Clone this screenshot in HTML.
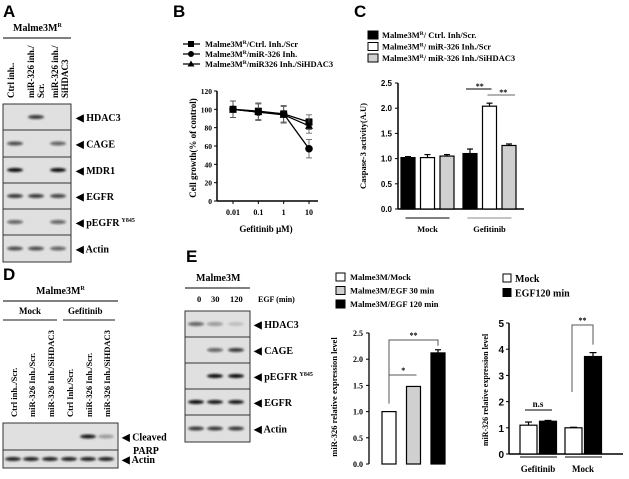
<!DOCTYPE html>
<html><head><meta charset="utf-8"><style>
html,body{margin:0;padding:0;background:#fff;}
svg{display:block;font-family:"Liberation Serif",serif;font-weight:bold;}
.pl{font-family:"Liberation Sans",sans-serif;font-weight:bold;font-size:17px;}
</style></head><body>
<svg id="fig" width="629" height="479" viewBox="0 0 629 479" xmlns="http://www.w3.org/2000/svg">
<defs>
<filter id="blur" x="-20%" y="-50%" width="140%" height="200%"><feGaussianBlur stdDeviation="1.1"/></filter>
</defs>
<text class="pl" x="3" y="17">A</text>
<text class="pl" x="173" y="17">B</text>
<text class="pl" x="354" y="17">C</text>
<text class="pl" x="3" y="280">D</text>
<text class="pl" x="186" y="262">E</text>

<g font-size="10">
<text x="13" y="31" font-size="10">Malme3M<tspan font-size="6" dy="-4">R</tspan></text>
<line x1="3" y1="38" x2="71" y2="38" stroke="#000"/>
<text transform="translate(14,98) rotate(-90)" font-size="9">Ctrl inh..</text>
<text transform="translate(34,98) rotate(-90)" font-size="9">miR-326 inh./</text>
<text transform="translate(44,98) rotate(-90)" font-size="9">Scr.</text>
<text transform="translate(58,98) rotate(-90)" font-size="9">miR-326 inh./</text>
<text transform="translate(68,98) rotate(-90)" font-size="9">SiHDAC3</text>
<g id="blotA"></g>
</g>

<g>
<text x="36" y="294" font-size="10">Malme3M<tspan font-size="6" dy="-4">R</tspan></text>
<line x1="3" y1="301" x2="118" y2="301" stroke="#000"/>
<text x="19" y="314" font-size="9">Mock</text>
<text x="68" y="314" font-size="9">Gefitinib</text>
<line x1="3" y1="320" x2="57" y2="320" stroke="#666" stroke-width="1.5"/>
<line x1="63" y1="320" x2="115" y2="320" stroke="#666" stroke-width="1.5"/>
<text transform="translate(17,417) rotate(-90)" font-size="8.5">Ctrl inh../Scr.</text>
<text transform="translate(35,417) rotate(-90)" font-size="8.5">miR-326 Inh./Scr.</text>
<text transform="translate(54,417) rotate(-90)" font-size="8.5">miR-326 Inh./SiHDAC3</text>
<text transform="translate(73,417) rotate(-90)" font-size="8.5">Ctrl Inh./Scr.</text>
<text transform="translate(92,417) rotate(-90)" font-size="8.5">miR-326 Inh./Scr.</text>
<text transform="translate(110,417) rotate(-90)" font-size="8.5">miR-326 Inh./SiHDAC3</text>
<g id="blotD"></g>
</g>

<g>
<text x="196" y="281" font-size="10">Malme3M</text>
<line x1="185" y1="288" x2="250" y2="288" stroke="#000"/>
<text x="197" y="302" font-size="8.5">0</text>
<text x="211" y="302" font-size="8.5">30</text>
<text x="230" y="302" font-size="8.5">120</text>
<text x="258" y="302" font-size="8">EGF (min)</text>
<g id="blotE"></g>
</g>

<g id="chartB"></g>
<g id="chartC"></g>
<g id="chartF"></g>
<g id="chartG"></g>
</svg>
<script>
const bDoses = ["0.01","0.1","1","10"];
const bScr = [100, 98, 95, 86];
const bInh = [100, 97, 95, 57];
const bSi = [100, 97, 94, 82];
const bErr = [9, 9, 9, 8];
const bErrInh = [9, 9, 9, 10];
const bTicks = [0,20,40,60,80,100,120];
const cGroups = ["Mock","Gefitinib"];
const cCtrl = [1.02, 1.10];
const cInh = [1.02, 2.04];
const cSi = [1.05, 1.26];
const cErrCtrl = [0.02, 0.09];
const cErrInh = [0.06, 0.06];
const cErrSi = [0.03, 0.03];
const cTicks = ["0.0","0.5","1.0","1.5","2.0","2.5"];
const fCats = ["Mock","EGF 30 min","EGF 120 min"];
const fVals = [1.0, 1.48, 2.12];
const fErr = [0.0, 0.0, 0.06];
const fTicks = ["0.0","0.5","1.0","1.5","2.0","2.5"];
const gGroups = ["Gefitinib","Mock"];
const gMock = [1.1, 1.0];
const gEgf = [1.25, 3.72];
const gErrMock = [0.12, 0.02];
const gErrEgf = [0.03, 0.15];
const gTicks = [0,1,2,3,4,5];

const NS="http://www.w3.org/2000/svg";
function mk(parent, tag, attrs, text){
  const e=document.createElementNS(NS,tag);
  for(const k in attrs) e.setAttribute(k, attrs[k]);
  if(text!==undefined) e.textContent=text;
  parent.appendChild(e); return e;
}
function errBar(g,x,y1,y2,w){
  mk(g,'line',{x1:x,x2:x,y1:y1,y2:y2,stroke:'#000','stroke-width':1.2});
  mk(g,'line',{x1:x-w,x2:x+w,y1:y2,y2:y2,stroke:'#000','stroke-width':1.2});
}

function blot(gid, x0, x1, rows, lanes, labels, lblX){
  const g=document.getElementById(gid);
  rows.forEach((r,i)=>{
    const row=mk(g,'rect',{x:x0,y:r[0],width:x1-x0,height:r[1]-r[0],fill:'#e0e0e0',stroke:'#333','stroke-width':1});
    
    
    const cy=(r[0]+r[1])/2;
    r[2].forEach((v,j)=>{
      if(v>0){
        const b=mk(g,'ellipse',{cx:lanes[j],cy:cy,rx:8,ry:2,fill:'#111','fill-opacity':v,filter:'url(#blur)'});
        
        
      }
    });
    const t=mk(g,'text',{x:lblX,y:cy+4,'font-size':10},'◀ '+labels[i].replace(' Y845',''));
    if(labels[i].indexOf('Y845')>=0){ mk(t,'tspan',{'font-size':6,dy:-4,dx:2},'Y845'); }
    
    
  });
}
blot('blotA',3,71,[[104,130,[0,0.8,0]],[130,157,[0.7,0,0.6]],[157,183,[1,0,1]],[183,209,[0.8,0.8,0.75]],[209,235,[0.6,0,0.6]],[235,262,[0.7,0.7,0.6]]],[15,36,58],["HDAC3","CAGE","MDR1","EGFR","pEGFR Y845","Actin"],76);
blot('blotD',3,118,[[423,450,[0,0,0,0,0.95,0.3]],[450,468,[0.9,0.9,0.9,0.9,0.9,0.9]]],[13,31,50,69,88,106],["Cleaved","Actin"],122);
(function(){const g=document.getElementById('blotD');const t=mk(g,'text',{x:133,y:454,'font-size':10},'PARP');})();
blot('blotE',185,250,[[311,337,[0.6,0.35,0.15]],[337,363,[0,0.6,0.8]],[363,389,[0,1,1]],[389,415,[1,0.95,0.95]],[415,442,[0.8,0.8,0.8]]],[196,215,236],["HDAC3","CAGE","pEGFR Y845","EGFR","Actin"],254);

(function(){
  const g=document.getElementById('chartB');
  const ax=217, y0=201, y1=91;
  const ys=v=>y0-(v/120)*(y0-y1);
  const xp=[233,259,283,309];
  const xs=i=>xp[0]+i*((xp[3]-xp[0])/(bDoses.length-1));
  mk(g,'line',{x1:ax,x2:ax,y1:y1,y2:y0,stroke:'#000','stroke-width':1.5});
  mk(g,'line',{x1:ax,x2:318,y1:y0,y2:y0,stroke:'#000','stroke-width':1.5});
  bTicks.forEach(t=>{mk(g,'line',{x1:ax-3,x2:ax,y1:ys(t),y2:ys(t),stroke:'#000'});mk(g,'text',{x:ax-5,y:ys(t)+3,'font-size':7.5,'text-anchor':'end'},t);});
  bDoses.forEach((d,i)=>{mk(g,'line',{x1:xs(i),x2:xs(i),y1:y0,y2:y0+3,stroke:'#000'});mk(g,'text',{x:xs(i),y:y0+14,'font-size':8,'text-anchor':'middle'},d);});
  mk(g,'text',{x:266,y:232,'font-size':9,'text-anchor':'middle'},'Gefitinib μM)');
  mk(g,'text',{transform:'translate(196,148) rotate(-90)','font-size':9,'text-anchor':'middle'},'Cell growth(% of control)');
  const series=[[bScr,bErr,'sq'],[bInh,bErrInh,'ci'],[bSi,bErr,'tr']];
  series.forEach(s=>{
    const pts=s[0].map((v,i)=>xs(i)+','+ys(v)).join(' ');
    const pl=mk(g,'polyline',{points:pts,fill:'none',stroke:'#000','stroke-width':1.3});
    
    
    s[0].forEach((v,i)=>{
      const x=xs(i),y=ys(v),e=s[1][i]*(y0-y1)/120;
      mk(g,'line',{x1:x,x2:x,y1:y-e,y2:y+e,stroke:'#555','stroke-width':0.8});
      mk(g,'line',{x1:x-3,x2:x+3,y1:y-e,y2:y-e,stroke:'#555','stroke-width':0.8});
      mk(g,'line',{x1:x-3,x2:x+3,y1:y+e,y2:y+e,stroke:'#555','stroke-width':0.8});
      let m;
      if(s[2]==='sq') m=mk(g,'rect',{x:x-3.5,y:y-3.5,width:7,height:7,fill:'#000'});
      else if(s[2]==='ci') m=mk(g,'circle',{cx:x,cy:y,r:3.8,fill:'#000'});
      else m=mk(g,'polygon',{points:`${x},${y-4} ${x-4},${y+3} ${x+4},${y+3}`,fill:'#000'});
      
      
    });
  });
  const leg=[['sq','Malme3M','/Ctrl. Inh./Scr'],['ci','Malme3M','/miR-326 Inh.'],['tr','Malme3M','/miR326 Inh./SiHDAC3']];
  leg.forEach((l,i)=>{
    const y=44+i*10;
    const lg=mk(g,'g',{});
    
    
    mk(lg,'line',{x1:183,x2:200,y1:y,y2:y,stroke:'#000','stroke-width':1.3});
    if(l[0]==='sq') mk(lg,'rect',{x:188,y:y-3,width:6,height:6});
    else if(l[0]==='ci') mk(lg,'circle',{cx:191,cy:y,r:3});
    else mk(lg,'polygon',{points:`191,${y-3.5} 187.5,${y+2.5} 194.5,${y+2.5}`});
    const t=mk(lg,'text',{x:205,y:y+3,'font-size':8.5},l[1]);
    mk(t,'tspan',{'font-size':5.5,dy:-3},'R');
    mk(t,'tspan',{dy:3},l[2]);
  });
})();

(function(){
  const g=document.getElementById('chartC');
  const ax=398,y0=209,yt=83;
  const ys=v=>y0-(v/2.5)*(y0-yt);
  const gx=[401,463], step=19.5, bw=14;
  mk(g,'line',{x1:ax,x2:ax,y1:yt,y2:y0,stroke:'#000','stroke-width':1.5});
  mk(g,'line',{x1:ax,x2:524,y1:y0,y2:y0,stroke:'#000','stroke-width':1.5});
  cTicks.forEach(t=>{const y=ys(+t);mk(g,'line',{x1:ax-3,x2:ax,y1:y,y2:y,stroke:'#000'});mk(g,'text',{x:ax-6,y:y+3,'font-size':8,'font-family':'Liberation Sans','text-anchor':'end'},t);});
  const series=[[cCtrl,cErrCtrl,'#000'],[cInh,cErrInh,'#fff'],[cSi,cErrSi,'#d0d0d0']];
  cGroups.forEach((grp,gi)=>{
    series.forEach((s,si)=>{
      const x=gx[gi]+si*step, y=ys(s[0][gi]);
      const r=mk(g,'rect',{x:x,y:y,width:bw,height:y0-y,fill:s[2],stroke:'#000','stroke-width':1.2});
      
      
      errBar(g,x+bw/2,y,ys(s[0][gi]+s[1][gi]),3);
    });
    const cx=gx[gi]+step+bw/2;
    mk(g,'line',{x1:cx-22,x2:cx+22,y1:218,y2:218,stroke:gi?'#888':'#000'});
    mk(g,'text',{x:cx,y:232,'font-size':8.5,'text-anchor':'middle'},grp);
  });
  const xi=i=>gx[1]+i*step+bw/2;
  mk(g,'line',{x1:xi(0)-4,x2:xi(1)+2,y1:89,y2:89,stroke:'#000'});
  mk(g,'text',{x:(xi(0)+xi(1))/2,y:89,'font-size':8,'text-anchor':'middle'},'**');
  mk(g,'line',{x1:xi(1)-2,x2:xi(2)+6,y1:95,y2:95,stroke:'#666'});
  mk(g,'text',{x:(xi(1)+xi(2))/2+4,y:95,'font-size':8,'text-anchor':'middle'},'**');
  mk(g,'text',{transform:'translate(366,146) rotate(-90)','font-size':8.5,'text-anchor':'middle'},'Caspase-3 activity(A.U)');
  const leg=[['#000',' Ctrl. Inh/Scr.'],['#fff',' miR-326 Inh./Scr'],['#d0d0d0',' miR-326 Inh./SiHDAC3']];
  leg.forEach((l,i)=>{
    const y=35+i*11.5;
    const lg=mk(g,'g',{});
    
    
    mk(lg,'rect',{x:368,y:y-4,width:10,height:8,fill:l[0],stroke:'#000'});
    const t=mk(lg,'text',{x:382,y:y+3,'font-size':8.5},'Malme3M');
    mk(t,'tspan',{'font-size':5.5,dy:-3},'R');
    mk(t,'tspan',{dy:3},'/'+l[1]);
  });
})();

(function(){
  const g=document.getElementById('chartF');
  const ax=369,y0=464,yt=333;
  const ys=v=>y0-(v/2.5)*(y0-yt);
  const bx=i=>382+i*24.5, bw=14;
  const fills=['#fff','#d0d0d0','#000'];
  mk(g,'line',{x1:ax,x2:ax,y1:yt,y2:y0,stroke:'#000','stroke-width':1.3});
  fTicks.forEach(t=>{const y=ys(+t);mk(g,'line',{x1:ax-3,x2:ax,y1:y,y2:y,stroke:'#000'});mk(g,'text',{x:ax-6,y:y+3,'font-size':8,'text-anchor':'end'},t);});
  fCats.forEach((c,i)=>{
    const y=ys(fVals[i]);
    const r=mk(g,'rect',{x:bx(i),y:y,width:bw,height:y0-y,fill:fills[i],stroke:'#000','stroke-width':1.2});
    
    
    if(fErr[i]>0) errBar(g,bx(i)+bw/2,y,ys(fVals[i]+fErr[i]),3);
  });
  const c0=bx(0)+bw/2;
  mk(g,'polyline',{points:`${c0},${ys(fVals[0])-8} ${c0},375 ${bx(1)+bw/2+3},375`,fill:'none',stroke:'#555'});
  mk(g,'text',{x:(c0+bx(1)+bw/2)/2+2,y:373,'font-size':8,'text-anchor':'middle'},'*');
  mk(g,'polyline',{points:`${c0},${ys(fVals[0])-14} ${c0},340 ${bx(2)+bw/2},340 ${bx(2)+bw/2},${ys(fVals[2]+fErr[2])-4}`,fill:'none',stroke:'#555'});
  mk(g,'text',{x:(c0+bx(2)+bw/2)/2,y:338,'font-size':8,'text-anchor':'middle'},'**');
  mk(g,'text',{transform:'translate(337,397) rotate(-90)','font-size':8.5,'text-anchor':'middle'},'miR-326 relative expression level');
  const leg=[['#fff','Malme3M/Mock'],['#d0d0d0','Malme3M/EGF 30 min'],['#000','Malme3M/EGF 120 min']];
  leg.forEach((l,i)=>{
    const y=277+i*13.5;
    const lg=mk(g,'g',{});
    
    
    mk(lg,'rect',{x:336,y:y-4,width:9,height:8,fill:l[0],stroke:'#000'});
    mk(lg,'text',{x:350,y:y+3,'font-size':8.5},l[1]);
  });
})();

(function(){
  const g=document.getElementById('chartG');
  const ax=509,y0=454,yt=323;
  const ys=v=>y0-(v/5)*(y0-yt);
  const gx=[520,565], bw=17, step=19.5;
  mk(g,'line',{x1:ax,x2:ax,y1:yt,y2:y0,stroke:'#000','stroke-width':1.5});
  mk(g,'line',{x1:ax,x2:623,y1:y0,y2:y0,stroke:'#000','stroke-width':1.5});
  gTicks.forEach(t=>{const y=ys(t);mk(g,'line',{x1:ax-3,x2:ax,y1:y,y2:y,stroke:'#000'});mk(g,'text',{x:ax-5,y:y+4,'font-size':10,'font-family':'Liberation Sans','text-anchor':'end'},t);});
  gGroups.forEach((grp,gi)=>{
    [[gMock,gErrMock,'#fff'],[gEgf,gErrEgf,'#000']].forEach((s,si)=>{
      const x=gx[gi]+si*step, y=ys(s[0][gi]);
      const r=mk(g,'rect',{x:x,y:y,width:bw,height:y0-y,fill:s[2],stroke:'#000','stroke-width':1.2});
      
      
      errBar(g,x+bw/2,y,ys(s[0][gi]+s[1][gi]),3.5);
    });
    mk(g,'line',{x1:gx[gi],x2:gx[gi]+37,y1:457,y2:457,stroke:'#000'});
    mk(g,'text',{x:gx[gi]+18,y:472,'font-size':9,'text-anchor':'middle'},grp);
  });
  mk(g,'line',{x1:gx[0]+5,x2:gx[0]+32,y1:410,y2:410,stroke:'#000'});
  mk(g,'text',{x:gx[0]+18,y:407,'font-size':9,'text-anchor':'middle'},'n.s');
  const xm=gx[1]+step+bw/2;
  mk(g,'polyline',{points:`572,392 572,325 ${xm},325 ${xm},${ys(gEgf[1]+gErrEgf[1])-8}`,fill:'none',stroke:'#555'});
  mk(g,'text',{x:(572+xm)/2,y:323,'font-size':8,'text-anchor':'middle'},'**');
  mk(g,'text',{transform:'translate(488,390) rotate(-90)','font-size':8,'text-anchor':'middle'},'miR-326 relative expression level');
  const leg=[['#fff','Mock'],['#000','EGF120 min']];
  leg.forEach((l,i)=>{
    const y=278+i*14.5;
    const lg=mk(g,'g',{});
    
    
    mk(lg,'rect',{x:503,y:y-4,width:8,height:8,fill:l[0],stroke:'#000'});
    mk(lg,'text',{x:515,y:y+4,'font-size':10},l[1]);
  });
})();
</script>
</body></html>
